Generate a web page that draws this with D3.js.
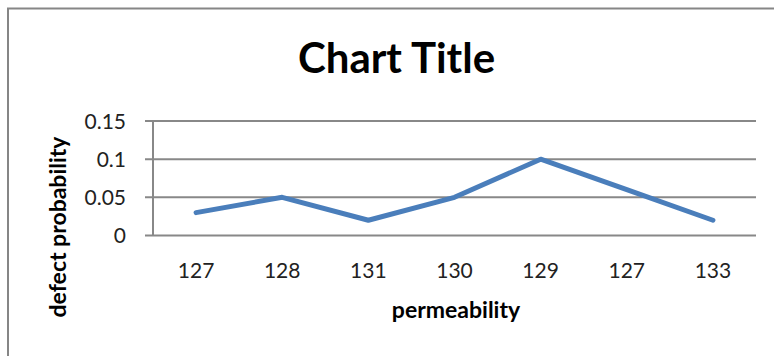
<!DOCTYPE html>
<html><head><meta charset="utf-8">
<script src="https://cdn.jsdelivr.net/npm/d3@7"></script>
<style>body{margin:0;background:#fff;overflow:hidden}</style>
</head><body>
<script>
const categories = ["127","128","131","130","129","127","133"];
const values = [0.03, 0.05, 0.02, 0.05, 0.1, 0.06, 0.02];
const yTicks = [0, 0.05, 0.1, 0.15];
const yTickLabels = ["0","0.05","0.1","0.15"];
const title = "Chart Title";
const xTitle = "permeability";
const yTitle = "defect probability";

(function(){
const W = 774, H = 356;
const svg = d3.select("body").append("svg").attr("width", W).attr("height", H);
svg.append("rect").attr("x",0).attr("y",0).attr("width",W).attr("height",H).attr("fill","#fff");
// chart border (right/bottom off-canvas)
svg.append("rect").attr("x",8).attr("y",8.5).attr("width",W+20).attr("height",H+20)
  .attr("fill","none").attr("stroke","#868686").attr("stroke-width",2);

const pl = 153, pr = 756, pt = 121, pb = 235.5;
const idx = categories.map((d,i)=>i);
const x = d3.scaleBand().domain(idx).range([pl, pr]);
const y = d3.scaleLinear().domain([0, 0.15]).range([pb, pt]);

// gridlines
svg.append("g").selectAll("line").data(yTicks).join("line")
  .attr("x1", pl-8).attr("x2", pr)
  .attr("y1", d=>y(d)).attr("y2", d=>y(d))
  .attr("stroke","#888").attr("stroke-width",2);
// y axis line
svg.append("line").attr("x1",pl).attr("x2",pl).attr("y1",pt).attr("y2",pb)
  .attr("stroke","#888").attr("stroke-width",2);

const font = "Lato, 'Open Sans', sans-serif";
// y tick labels
svg.append("g").selectAll("text").data(yTicks).join("text")
  .attr("x", 126).attr("y", d=>y(d)).attr("dy","0.36em")
  .attr("text-anchor","end").attr("font-family",font).attr("font-size",21)
  .attr("fill","#222").text((d,i)=>yTickLabels[i]);
// x tick labels
svg.append("g").selectAll("text").data(idx).join("text")
  .attr("x", d=>x(d)+x.bandwidth()/2).attr("y", 278)
  .attr("text-anchor","middle").attr("font-family",font).attr("font-size",21)
  .attr("fill","#222").text(d=>categories[d]);

// line
const line = d3.line().x((d,i)=>x(i)+x.bandwidth()/2).y(d=>y(d));
svg.append("path").datum(values).attr("d", line)
  .attr("fill","none").attr("stroke","#4a7ebb").attr("stroke-width",5)
  .attr("stroke-linejoin","round").attr("stroke-linecap","round");

// titles
svg.append("text").attr("x",396.5).attr("y",73).attr("text-anchor","middle")
  .attr("font-family",font).attr("font-weight","bold").attr("font-size",42)
  .attr("fill","#000").text(title);
svg.append("text").attr("x",456).attr("y",318).attr("text-anchor","middle")
  .attr("font-family",font).attr("font-weight","bold").attr("font-size",23)
  .attr("fill","#000").text(xTitle);
svg.append("text").attr("transform","translate(66,227) rotate(-90)").attr("text-anchor","middle")
  .attr("font-family",font).attr("font-weight","bold").attr("font-size",23)
  .attr("fill","#000").text(yTitle);
})();
</script>
</body></html>
